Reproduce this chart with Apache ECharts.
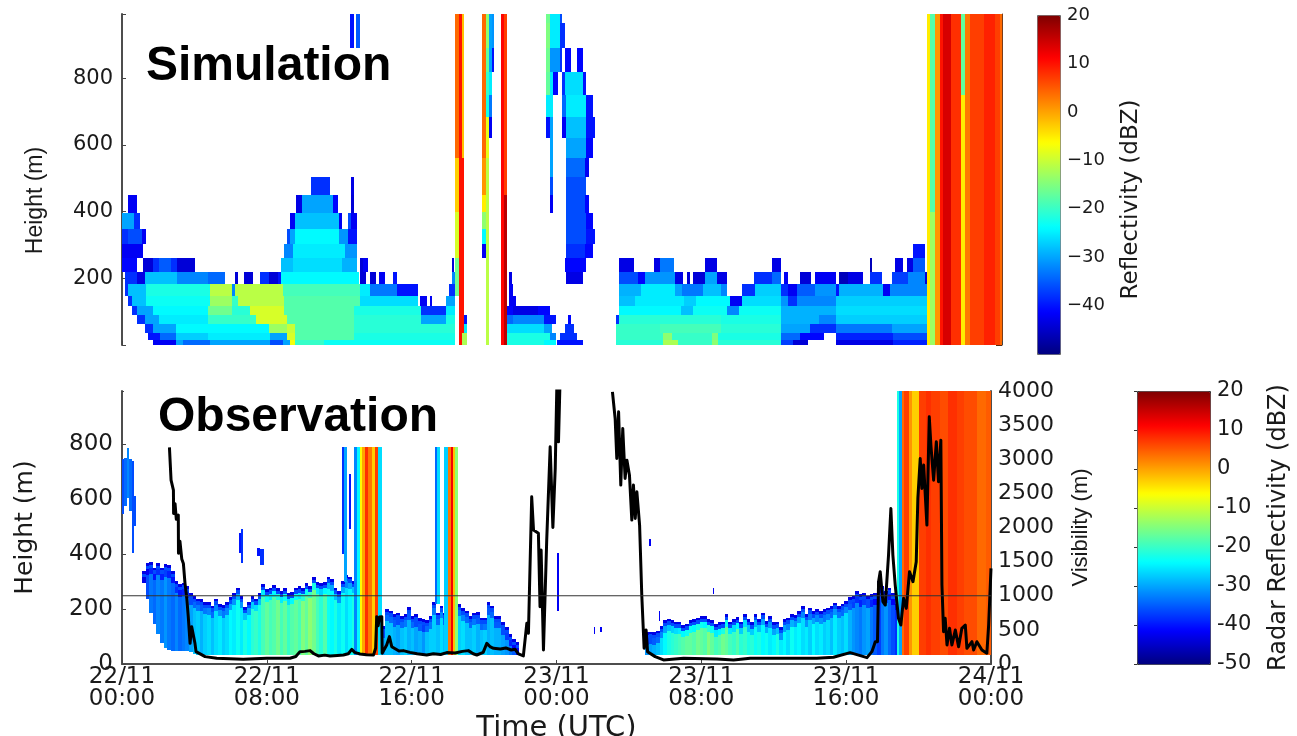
<!DOCTYPE html>
<html>
<head>
<meta charset="utf-8">
<style>html,body{margin:0;padding:0;background:#fff}#c{width:1297px;height:736px}</style>
<script src="https://cdn.jsdelivr.net/npm/echarts@6/dist/echarts.min.js"></script>
</head>
<body>
<div id="c"></div>
<script>
// ---------- labels ----------
const timeTickHours = [0, 8, 16, 24, 32, 40, 48];
const timeTickLabels = ['22/11\n00:00','22/11\n08:00','22/11\n16:00','23/11\n00:00','23/11\n08:00','23/11\n16:00','24/11\n00:00'];
const heightTicks = [0, 200, 400, 600, 800];
const jetColors = ['#00007f','#0000ff','#007fff','#00ffff','#7fff7f','#ffff00','#ff7f00','#ff0000','#7f0000'];

// ---------- simulation: model level boundaries (m) ----------
const simLevels = [0,15,36,63,90,117,147,183,219,261,303,348,396,450,504,561,621,684,750,819,891,966,1000];
// runs per level: [from, to, dBZ], time in 20-minute columns
const simL0 = [[5.1,8.9,-42],[8.9,10,-30],[10,14.4,-34],[14.4,24.2,-30],[24.2,26.4,-36],[26.4,27.5,-30],[27.5,28.3,-7],[28.3,33,-20],[33,54.5,-23],[63,69,-22],[69,71,-24],[71.2,75.5,-40],[80.8,88.6,-21],[88.6,91,-12],[91,96.5,-20],[96.5,97.6,-14],[97.6,107.9,-21],[107.9,109.8,-37],[109.8,112.3,-44],[116.9,126.2,-43],[126.2,131.8,-39]];
const simL1 = [[4.3,6.2,-40],[6.2,8.9,-34],[8.9,14,-27],[14,24.2,-25],[24.2,27,-30],[27,28.3,-9],[28.3,38,-18],[38,54.5,-22],[63,70,-22],[70,71,-32],[71.7,74.4,-38],[80.8,88.6,-20],[88.6,90,-14],[90,96.5,-20],[96.5,97.6,-15],[97.6,107.9,-22],[107.9,110.9,-34],[110.9,114.8,-41],[116.9,126.2,-39],[126.2,131.8,-36]];
const simL2 = [[3.8,5.1,-38],[5.1,8.9,-30],[8.9,24,-24],[24,27,-13],[27,28.3,-10],[28.3,38,-18],[38,54.5,-21],[63,69,-26],[69,70.3,-30],[72.5,73.9,-38],[80.8,88,-20],[88,98,-19],[98,107.9,-21],[107.9,112.6,-30],[112.6,116.9,-38],[116.9,126,-33],[126,131.8,-30]];
const simL3 = [[2.4,3.8,-38],[3.8,6,-30],[6,14,-25],[14,22,-20],[22,27,-9],[27,38,-18],[38,49,-21],[49,53,-30],[53,54.5,-22],[56,56.4,-40],[63,64,-34],[64,69,-32],[69,71,-40],[73,73.4,-41],[80.8,81.4,-38],[81.4,98,-21],[98,107.9,-22],[107.9,114,-29],[114,116.9,-32],[116.9,131.8,-27]];
const simL4 = [[1.6,2.4,-38],[2.4,5,-30],[5,14,-24],[14,18,-16],[18,21,-21],[21,26.5,-9],[26.5,38,-18],[38,49,-22],[49,53,-38],[53,54.5,-25],[63,64,-41],[64,68,-43],[68,70,-41],[81.4,91.5,-24],[91.5,93.5,-28],[93.5,99,-23],[99,101,-32],[101,107.9,-23],[107.9,116.9,-29],[116.9,131.8,-26]];
const simL5 = [[1,1.6,-38],[1.6,4,-28],[4,14.4,-23],[14.4,18,-13],[18,19,-20],[19,26.5,-11],[26.5,39,-18],[39,48.5,-26],[48.8,49.9,-42],[50.4,50.8,-42],[53,54.5,-30],[63.4,64.5,-42],[81.4,84,-28],[84,92,-25],[92,94,-27],[94,99.5,-24],[99.5,101.4,-42],[101.4,107.9,-26],[107.9,109,-31],[109,110.4,-38],[110.4,116.9,-32],[116.9,131.8,-27]];
const simL6 = [[0.5,1,-38],[1,4,-28],[4,14.4,-22],[14.4,18,-11],[18,18.5,-32],[18.5,26.4,-11],[26.4,39,-19],[39,40.6,-25],[40.6,45,-33],[45,48.5,-40],[53.5,54.5,-38],[63.4,64,-42],[81.4,85,-29],[85,90.5,-25],[90.5,91.6,-30],[91.6,95.1,-33],[95.1,98,-28],[98,99,-32],[101.4,103.6,-38],[103.6,107.9,-27],[107.9,109,-38],[109,110.4,-42],[110.4,113.4,-35],[113.4,116.9,-31],[116.9,117.4,-40],[117.4,124.6,-29],[124.6,125.7,-42],[125.7,131.8,-32]];
const simL7 = [[0.5,2.4,-38],[2.4,3.8,-43],[3.8,9,-28],[9,14,-32],[14,16.9,-34],[18.5,19,-44],[20,21.5,-44],[22.5,24,-38],[24,25.5,-44],[25.5,26,-40],[26,38.7,-24],[39,40,-44],[40.5,41.5,-44],[42,43,-42],[44.4,45,-40],[54,54.5,-32],[63.4,63.8,-43],[72.7,75.5,-43],[81.4,84.5,-36],[84.5,85.6,-41],[85.6,90.5,-31],[90.5,91.8,-43],[92.4,92.9,-44],[93.4,95.4,-44],[95.4,97.3,-30],[97.3,99,-43],[103.4,106.4,-38],[106.4,107.8,-34],[108.4,108.9,-42],[110.9,112.8,-44],[113.4,116.9,-42],[117.4,118.8,-46],[118.8,121.3,-43],[122.4,124.3,-38],[126,128.7,-37],[128.7,131.4,-32],[131.4,131.8,-44]];
const simL8 = [[0,2.4,-41],[3.5,5,-44],[5,6,-38],[6,8,-35],[8,9,-38],[9,12,-44],[26,28,-28],[28,36,-26],[36,38.4,-29],[39,39.4,-44],[39.5,40.3,-42],[54,54.4,-44],[72.5,75.9,-41],[81.4,83.8,-43],[87,88,-43],[88,90.3,-33],[95.4,97.4,-43],[106.4,107.8,-43],[122.4,122.8,-46],[126.5,127.8,-43],[128.4,129.4,-43],[129.4,131.4,-35]];
const simL9 = [[0,3.5,-42],[26.5,28,-32],[28,36.5,-25],[36.5,38.4,-31],[72.7,75.8,-38],[75.8,77,-41],[129.4,131.4,-40]];
const simL10 = [[0,1,-38],[1,3.3,-36],[3.3,4,-42],[27,27.5,-36],[27.5,28.3,-30],[28.3,35.5,-24],[35.5,37,-31],[37,38.4,-40],[72.7,76,-36],[76,77.4,-40]];
const simL11 = [[0,2,-30],[2,3,-38],[27.5,28.3,-42],[28.3,35.5,-28],[35.5,36,-42],[37,37.5,-36],[37.5,38.4,-42],[72.7,75.9,-36],[75.9,77,-41]];
const simL12 = [[1,2.4,-42],[28.5,29.5,-43],[29.5,34.5,-30],[34.5,35.4,-41],[37.4,38,-44],[70.05,70.5,-42],[72.7,75.8,-36],[75.8,76.4,-41]];
const simL13 = [[31,34,-38],[37.4,38,-43],[70.05,70.5,-36],[72.7,75.9,-36]];
const simL14 = [[70.05,70.5,-30],[72.7,75.8,-34],[75.8,76.4,-42]];
const simL15 = [[70.05,70.5,-30],[72.7,76,-30],[76,77,-41]];
const simL16 = [[69.4,70.05,-40],[70.05,70.5,-30],[72,72.7,-42],[72.7,76,-28],[76,77.4,-40]];
const simL17 = [[69.4,70.5,-25],[72,72.7,-34],[72.7,76,-25],[76,77,-40]];
const simL18 = [[69.4,70.05,-17],[70.05,70.5,-25],[70.5,71.4,-41],[72,72.5,-38],[72.5,75.5,-26],[75.5,76,-40]];
const simL19 = [[69.4,70.05,-16],[70.05,71.6,-31],[71.6,72,-38],[72.5,73.4,-41],[74.4,75.5,-41]];
const simL20 = [[37.3,37.9,-40],[38.3,39,-35],[69.4,70.05,-15],[70.05,71.7,-25],[71.7,72.5,-38]];
const simL21 = [[37.3,37.9,-40],[38.3,39,-35],[69.4,70.05,-16],[70.05,71.7,-25],[71.7,72,-36]];
const simLayers = [simL0,simL1,simL2,simL3,simL4,simL5,simL6,simL7,simL8,simL9,simL10,simL11,simL12,simL13,simL14,simL15,simL16,simL17,simL18,simL19,simL20,simL21];
// deep cloud columns: [from, to, bottom m, top m, dBZ]
const simColumns = [
 [54.5,55.1,561,1000,4],[54.5,55.1,399,561,-3],[54.5,55.1,261,399,-9],[54.5,55.1,147,261,-16],
 [55.1,55.6,0,1000,10],[55.6,56,36,561,10],[55.6,56,561,1000,-2],[55.6,56.4,0,36,-12],[56,56.4,36,63,-25],
 [58.98,59.5,561,1000,4],[58.98,59.5,450,561,1],[58.98,59.5,399,450,-5],[58.98,59.5,348,399,-14],[58.98,59.5,303,348,-24],[58.98,59.5,261,303,-42],
 [59.5,60.07,891,1000,-14],[59.5,60.07,819,891,-17],[59.5,60.07,750,819,-20],[59.5,60.07,684,750,-22],[59.5,60.07,561,684,-8],[59.5,60.07,0,561,-11],
 [60.07,60.5,819,1000,-30],[60.07,60.5,750,819,-25],[60.07,60.5,684,750,-33],[60.07,60.5,621,684,-42],
 [60.5,60.9,891,1000,-31],[60.5,60.9,819,891,-40],
 [62,62.5,0,1000,11],[62.5,63,450,1000,7],[62.5,63,0,450,16],
 [131.8,132.2,0,1000,-5],[132.2,133,400,1000,-18],[132.2,133,0,400,-13],[133,133.8,0,1000,1],
 [133.8,134.4,0,1000,10],[134.4,135.6,0,1000,14],[135.6,137.3,0,1000,8],[137.3,138,750,1000,-17],[137.3,138,0,750,-5],
 [138,138.8,0,1000,3],[138.8,141,0,1000,7],[141,142.9,0,1000,9],[142.9,143.6,0,1000,7],[143.6,144,0,1000,4]
];

// ---------- observation: fog layer read every 0.2 h ----------
const fogAStart = 1.1;
const fogATop = [339,367,371,351,367,351,363,359,339,302, 290,296,284,258,248,238,236,226,224,212, 238,218,214,224,242,258,278,248,206,224, 246,238,258,290,272,278,287,276,266,275, 258,262,278,282,275,294,284,315,299,294, 299,318,309,278,266,302,323,318,302,266];
const fogABase = [296,236,187,145,109,78,60,52,48,48, 48,48,48,42,36,33,33,33,33,33, 33,33,33,33,33,33,33,33,33,33, 33,33,33,33,33,33,33,33,33,33, 33,33,33,33,33,33,33,33,33,33, 33,33,33,33,33,33,33,33,33,33];
const fogACore = [-37,-36,-33,-34,-32,-33,-31,-33,-34,-32, -34,-33,-32,-30,-28,-27,-29,-27,-26,-28, -26,-25,-27,-26,-24,-25,-23,-25,-22,-24, -21,-20,-22,-19,-17,-19,-18,-16,-19,-17, -20,-18,-17,-19,-15,-17,-14,-16,-19,-21, -18,-23,-24,-22,-25,-23,-26,-24,-22,-25];
const fogBStart = 14.35;
const fogBTop = [139,200,194,181,187,175,181,206,175,181, 166,163,160,173,224,187,212,187,163,175, 175,218,202,194,175,187,190,169,169,224, 212,175,175,151,133,109,91,79];
const fogBCore = [-30,-28,-28,-29,-30,-28,-27,-29,-28,-30, -29,-31,-28,-27,-27,-28,-26,-28,-28,-27, -27,-27,-26,-28,-28,-27,-29,-28,-27,-29, -28,-29,-29,-30,-31,-33,-35,-36];
const fogCStart = 28.9;
const fogCTop = [115,118,115,121,139,159,165,159,154,154, 142,147,159,163,169,175,175,163,159,145, 151,154,181,154,163,171,154,181,163,151, 181,163,187,157,175,151,154,133,163,169, 181,179,193,211,181,205,191,199,191,199, 205,211,223,211,220,229,242,248,266,254, 260,248,254,260,302,284,266,278,260,242];
const fogCCore = [-31,-30,-29,-28,-26,-24,-22,-21,-20,-19, -18,-17,-17,-18,-16,-17,-18,-15,-17,-19, -18,-16,-17,-19,-20,-18,-21,-20,-22,-21, -23,-22,-24,-23,-25,-24,-22,-25,-24,-26, -23,-25,-24,-26,-25,-27,-24,-26,-25,-27, -26,-28,-25,-27,-28,-26,-29,-31,-32,-33, -31,-30,-33,-35,-37,-33,-31,-34,-36,-38];
const fogBase = 33;
// rain shafts and isolated echoes: [from h, to h, bottom m, top m, dBZ]
const obsColumns = [
 [12.14,12.28,400,790,-38],[12.28,12.41,300,790,-30],[12.54,12.63,490,690,-40],
 [12.82,12.97,33,790,-32],[12.97,13.15,33,790,-24],[13.15,13.28,33,790,-6],[13.28,13.43,33,790,0],[13.43,13.61,33,790,8],[13.61,13.79,33,790,3],[13.79,13.98,33,790,-3],[13.98,14.16,33,790,7],[14.16,14.35,33,790,-26],
 [17.29,17.38,220,790,-34],[17.38,17.57,220,790,-26],[17.81,18.03,33,790,-27],[18.03,18.16,33,790,3],[18.16,18.27,33,790,12],[18.27,18.4,33,790,-2],[18.4,18.55,33,790,-14],
 [0,0.11,544,744,-36],[0.11,0.26,575,750,-34],[0.26,0.41,605,786,-32],[0.41,0.55,557,744,-34],[0.55,0.66,405,738,-36],[0.66,0.77,502,611,-36],
 [6.48,6.57,405,478,-40],[6.57,6.7,369,492,-38],[7.48,7.62,393,423,-40],[7.62,7.85,359,417,-38],
 [24.05,24.13,193,405,-42],[29.1,29.2,429,453,-42],[29.65,29.73,157,193,-42],[32.66,32.72,254,278,-42],[26.05,26.14,108,133,-42],[26.41,26.5,115,133,-42],
 [42.8,42.93,34,1000,-22],[42.93,43.08,34,1000,-30],[43.08,43.21,34,1000,4],[43.21,43.45,34,1000,7],[43.45,43.63,34,1000,1],[43.63,44,34,1000,-3],
 [44,44.4,34,1000,7],[44.4,44.7,34,1000,8],[44.7,45.2,34,1000,7],[45.2,45.6,34,1000,6],[45.6,46.1,34,1000,8],[46.1,46.5,34,1000,7],[46.5,47.2,34,1000,6],[47.2,47.7,34,1000,4],[47.7,48,34,1000,5]
];

// ---------- visibility (m) against time (h); null breaks the line ----------
const visTimes = [2.62,2.71,2.84,2.85,2.93,3.0,3.11,3.12,3.2,3.3,3.39,3.48,3.57,3.66,3.76,3.85,4.03,4.09,4.59,5.23,6.7,7.99,9.28,9.6,9.83,10.1,10.39,10.6,10.85,11.2,11.49,11.9,12.23,12.5,12.69,12.85,13.15,13.5,13.89,14.01,14.07,14.15,14.22,14.35,14.37,14.62,14.77,14.9,15.3,15.54,15.9,16.3,16.83,17.2,17.6,17.94,18.4,18.8,19.13,19.4,19.6,19.95,20.15,20.35,20.52,20.9,21.2,21.5,21.71,21.9,22.17,22.36,22.45,22.63,22.73,23.0,23.09,23.15,23.28,23.46,23.65,23.8,23.93,24.02,24.11,24.2,
 26,27.09,27.24,27.33,27.43,27.55,27.66,27.79,27.89,28.03,28.16,28.25,28.35,28.44,28.59,28.71,28.84,28.95,29.03,29.45,29.91,31.02,32.86,33.78,34.7,36.54,38.38,39.3,40.22,41.15,41.42,41.61,41.73,41.79,41.88,42.03,42.16,42.34,42.47,42.58,42.71,42.89,43.02,43.17,43.32,43.5,43.69,43.87,43.96,44.09,44.18,44.28,44.46,44.59,44.68,44.83,44.98,45.1,45.23,45.29,45.38,45.47,45.57,45.71,45.84,46.03,46.21,46.39,46.58,46.67,46.95,47.04,47.22,47.5,47.77,47.87,48];
const visValues = [3173,2694,2548,2206,2350,2120,2182,1621,1800,1540,1474,1182,986,694,303,547,303,181,108,84,69,84,84,110,181,185,196,150,118,130,118,125,132,150,215,170,147,135,132,230,694,560,690,694,157,279,401,254,190,196,170,150,132,150,140,167,160,185,196,150,132,170,303,250,230,220,235,205,215,147,118,596,450,2450,1962,1914,840,1670,206,1816,3182,2000,2865,4085,3255,4200,
 null,3987,3597,3011,3695,2621,3451,2719,2987,2767,2109,2621,2133,2523,2035,1011,230,498,181,108,59,83,74,59,83,83,83,98,166,93,181,327,327,1206,1352,913,864,1596,2279,1596,1157,669,571,962,815,1352,1206,1499,2426,3011,2572,2914,2035,3621,3207,2694,3255,2670,3280,1157,474,669,279,523,279,498,254,523,571,230,327,205,327,205,157,571,1401];
const visReference = [[0,1000],[48,1000]];

// ---------- build cells ----------
const simCells = [];
simLayers.forEach((runs, k) => runs.forEach(r => simCells.push([r[0]/3, r[1]/3, simLevels[k], simLevels[k+1], r[2]])));
simColumns.forEach(c => simCells.push([c[0]/3, c[1]/3, c[2], c[3], c[4]]));

const obsCells = [];
function addFog(start, tops, cores, bases) {
  tops.forEach((top, i) => {
    const t0 = start + i*0.2, t1 = t0 + 0.2, core = cores[i], base = bases ? bases[i] : fogBase;
    obsCells.push([t0, t1, base, Math.max(base, top-45), core]);
    if (top-45 > base || top-22 > base) obsCells.push([t0, t1, Math.max(base, top-45), Math.max(base, top-22), core-6]);
    obsCells.push([t0, t1, Math.max(base, top-22), Math.max(base, top-10), -36]);
    obsCells.push([t0, t1, Math.max(base, top-10), top, -43]);
  });
}
addFog(fogAStart, fogATop, fogACore, fogABase);
addFog(fogBStart, fogBTop, fogBCore);
addFog(fogCStart, fogCTop, fogCCore);
obsColumns.forEach(c => obsCells.push(c));

const visLine = visTimes.map((t, i) => [t, visValues[i]]);

function renderCell(params, api) {
  const a = api.coord([api.value(0), api.value(3)]);
  const b = api.coord([api.value(1), api.value(2)]);
  const x = Math.round(a[0]), y = Math.round(a[1]);
  const rect = echarts.graphic.clipRectByRect(
    {x: x, y: y, width: Math.round(b[0]) - x, height: Math.round(b[1]) - y},
    {x: params.coordSys.x, y: params.coordSys.y, width: params.coordSys.width, height: params.coordSys.height});
  return rect && {type: 'rect', shape: rect, style: {fill: api.visual('color')}};
}

const font = 'DejaVu Sans';
const ink = '#1a1a1a';
const spine = '#4d4d4d';
const heightLabel = v => heightTicks.includes(v) ? String(v) : '';

const chart = echarts.init(document.getElementById('c'));
chart.setOption({
  animation: false,
  backgroundColor: '#fff',
  title: [
    {text: 'Simulation', left: 146, top: 43, padding: 0, z: 20,
     textStyle: {fontFamily: 'Liberation Sans', fontWeight: 'bold', fontSize: 48, color: '#000'}},
    {text: 'Observation', left: 124, top: 390, padding: [4, 35, 0, 34], backgroundColor: '#fff', z: 20,
     textStyle: {fontFamily: 'Liberation Sans', fontWeight: 'bold', fontSize: 48, color: '#000'}}
  ],
  grid: [
    {left: 122, top: 14, width: 880, height: 331, outerBoundsMode: 'none'},
    {left: 122, top: 391, width: 869, height: 273, outerBoundsMode: 'none'},
    {left: 1037, top: 15, width: 23, height: 339, outerBoundsMode: 'none'},
    {left: 1137, top: 391, width: 73, height: 273, outerBoundsMode: 'none'}
  ],
  xAxis: [
    {type: 'value', gridIndex: 0, min: 0, max: 48, interval: 8, position: 'bottom',
     axisLine: {show: false}, splitLine: {show: false}, axisLabel: {show: false},
     axisTick: {inside: true, length: 4, lineStyle: {color: '#444'}}},
    {type: 'value', gridIndex: 1, min: 0, max: 48, interval: 8, position: 'bottom', name: 'Time (UTC)',
     nameLocation: 'middle', nameGap: 50, nameTextStyle: {fontFamily: font, fontSize: 29, color: ink},
     axisLine: {lineStyle: {color: spine, width: 2}}, splitLine: {show: false},
     axisTick: {inside: true, length: 4, lineStyle: {color: '#444'}},
     axisLabel: {fontFamily: font, fontSize: 23, lineHeight: 22, color: ink, margin: 2, hideOverlap: false,
       formatter: v => timeTickLabels[timeTickHours.indexOf(v)] || ''}},
    {type: 'value', gridIndex: 2, min: 0, max: 1, show: false},
    {type: 'value', gridIndex: 3, min: 0, max: 1, show: false}
  ],
  yAxis: [
    {type: 'value', gridIndex: 0, min: 0, max: 993, interval: 200, position: 'left', name: 'Height (m)',
     nameLocation: 'middle', nameGap: 75, nameTextStyle: {fontFamily: 'Liberation Sans', fontSize: 23, color: ink, padding: [0, 42, 0, 0]},
     axisLine: {lineStyle: {color: spine, width: 2}}, splitLine: {show: false},
     axisTick: {inside: true, length: 4, lineStyle: {color: '#444'}},
     axisLabel: {fontFamily: font, fontSize: 21, color: ink, margin: 9, formatter: v => v === 0 ? '' : heightLabel(v)}},
    {type: 'value', gridIndex: 0, min: 0, max: 993, interval: 200, position: 'right',
     axisLine: {show: true, lineStyle: {color: '#7a3d1a', width: 1}}, splitLine: {show: false},
     axisTick: {show: true, inside: true, length: 6, lineStyle: {color: '#5a2a10'}}, axisLabel: {show: false}},
    {type: 'value', gridIndex: 1, min: 0, max: 993, interval: 200, position: 'left', name: 'Height (m)',
     nameLocation: 'middle', nameGap: 84, nameTextStyle: {fontFamily: font, fontSize: 25, color: ink},
     axisLine: {lineStyle: {color: spine, width: 2}}, splitLine: {show: false},
     axisTick: {inside: true, length: 4, lineStyle: {color: '#444'}},
     axisLabel: {fontFamily: font, fontSize: 23, color: ink, margin: 9, formatter: heightLabel}},
    {type: 'value', gridIndex: 1, min: 0, max: 4000, interval: 500, position: 'right', name: 'Visibility (m)',
     nameLocation: 'middle', nameGap: 79, nameRotate: 90,
     nameTextStyle: {fontFamily: 'Liberation Sans', fontSize: 22, color: ink},
     axisLine: {show: true, lineStyle: {color: spine, width: 2}}, splitLine: {show: false},
     axisTick: {show: true, inside: true, length: 4, lineStyle: {color: '#444'}},
     axisLabel: {fontFamily: font, fontSize: 22, color: ink, margin: 7, formatter: v => String(v)}},
    {type: 'value', gridIndex: 2, min: -50, max: 20, interval: 10, position: 'right', name: 'Reflectivity (dBZ)',
     nameLocation: 'middle', nameGap: 60, nameRotate: 90,
     nameTextStyle: {fontFamily: font, fontSize: 23, color: ink, padding: [0, 30, 0, 0]},
     axisLine: {show: false}, axisTick: {show: false}, splitLine: {show: false},
     axisLabel: {fontFamily: font, fontSize: 18, color: ink, margin: 7,
       formatter: v => v === -50 ? '' : String(v).replace('-', '\u2212')}},
    {type: 'value', gridIndex: 3, min: -50, max: 20, interval: 10, position: 'right', name: 'Radar Reflectivity (dBZ)',
     nameLocation: 'middle', nameGap: 57, nameRotate: 90, z: 10,
     nameTextStyle: {fontFamily: font, fontSize: 24, color: ink},
     axisLine: {show: false}, axisTick: {show: true, inside: true, length: 3, lineStyle: {color: '#333'}}, splitLine: {show: false},
     axisLabel: {fontFamily: font, fontSize: 21, color: ink, margin: 7, formatter: v => String(v)}}
  ],
  visualMap: [
    {type: 'continuous', seriesIndex: 0, dimension: 4, min: -50, max: 20, calculable: false, realtime: false, hoverLink: false,
     left: 1037, top: 15, itemWidth: 23, itemHeight: 339, padding: 0, text: null, showLabel: false,
     borderColor: '#666', borderWidth: 1, inRange: {color: jetColors}},
    {type: 'continuous', seriesIndex: 1, dimension: 4, min: -50, max: 20, calculable: false, realtime: false, hoverLink: false,
     left: 1137, top: 391, itemWidth: 73, itemHeight: 273, padding: 0, text: null, showLabel: false,
     borderColor: '#333', borderWidth: 1, inRange: {color: jetColors}}
  ],
  series: [
    {name: 'Simulation', type: 'custom', xAxisIndex: 0, yAxisIndex: 0, renderItem: renderCell, data: simCells,
     encode: {x: [0, 1], y: [2, 3]}, silent: true, progressive: 0, z: 2},
    {name: 'Observation', type: 'custom', xAxisIndex: 1, yAxisIndex: 2, renderItem: renderCell, data: obsCells,
     encode: {x: [0, 1], y: [2, 3]}, silent: true, progressive: 0, z: 2},
    {name: 'Visibility', type: 'line', xAxisIndex: 1, yAxisIndex: 3, data: visLine, showSymbol: false, clip: true,
     connectNulls: false, lineStyle: {color: '#000', width: 3, join: 'round'}, silent: true, z: 5},
    {name: 'Visibility 1000 m', type: 'line', xAxisIndex: 1, yAxisIndex: 3, data: visReference, showSymbol: false,
     lineStyle: {color: '#333', width: 1}, silent: true, z: 6}
  ]
});
</script>
</body>
</html>
